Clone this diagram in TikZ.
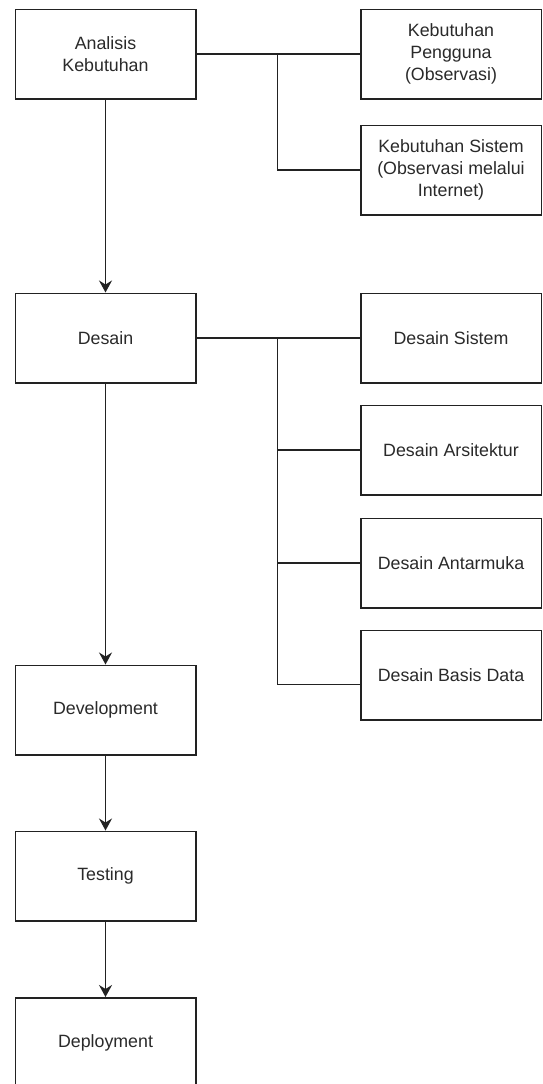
\documentclass[tikz,border=0pt]{standalone}
\usepackage{fontspec}
\setmainfont{Liberation Sans}
\usetikzlibrary{arrows.meta}
\definecolor{ln}{HTML}{222222}
\definecolor{tx}{HTML}{2a2a2a}
\begin{document}
\begin{tikzpicture}[x=1pt,y=-1pt,
  box/.style={draw=ln,line width=1.5pt,minimum width=180.5pt,minimum height=89.5pt,
    inner sep=0pt,align=center,text=tx,font=\fontsize{17.8}{22}\selectfont,anchor=north west},
  conn/.style={draw=ln,line width=1.5pt},
  arr/.style={conn,-{Stealth[length=12pt,width=13pt,inset=4pt]}}]
\useasboundingbox[fill=white] (0,0) rectangle (542,1084);

% left column
\node[box] (ana) at (14.5,8.5) {Analisis\\Kebutuhan};
\node[box] (des) at (14.5,292.5) {Desain};
\node[box] (dev) at (14.5,664.5) {Development};
\node[box] (tst) at (14.5,830.5) {Testing};
\node[box] (dep) at (14.5,997) {Deployment};

% right column
\node[box] (peng) at (360,8.5) {Kebutuhan\\Pengguna\\(Observasi)};
\node[box] (ksis) at (360,124.5) {Kebutuhan Sistem\\(Observasi melalui\\Internet)};
\node[box] (dsis) at (360,292.5) {Desain Sistem};
\node[box] (dars) at (360,404.5) {Desain Arsitektur};
\node[box] (dant) at (360,517.5) {Desain Antarmuka};
\node[box] (dbas) at (360,629.5) {Desain Basis Data};

% junctions
\coordinate (j1) at (277.5,53.25);
\coordinate (j2) at (277.5,337.25);

% branches
\draw[conn] (ana.east) -- (peng.west);
\draw[conn] (j1) |- (ksis.west);
\draw[conn] (des.east) -- (dsis.west);
\draw[conn] (j2) |- (dars.west);
\draw[conn] (j2) |- (dant.west);
\draw[conn] (j2) |- ([yshift=-9.5pt]dbas.west);

% main flow
\draw[arr] (ana.south) -- (des.north);
\draw[arr] (des.south) -- (dev.north);
\draw[arr] (dev.south) -- (tst.north);
\draw[arr] (tst.south) -- (dep.north);
\end{tikzpicture}
\end{document}
